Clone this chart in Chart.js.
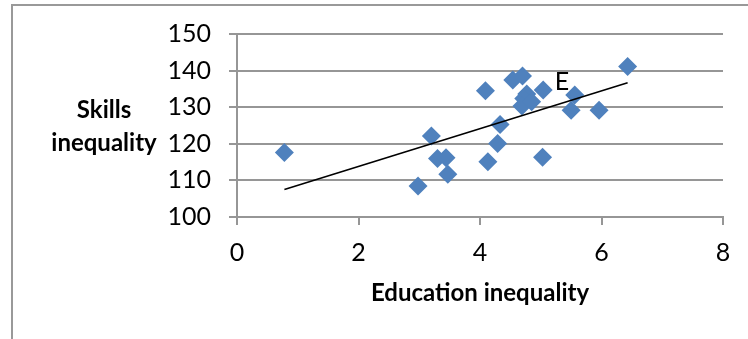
<!DOCTYPE html>
<html>
<head>
<meta charset="utf-8">
<script src="https://cdn.jsdelivr.net/npm/chart.js@4"></script>
<style>
  html, body { margin: 0; padding: 0; background: #fff; }
  #wrap { width: 748px; height: 339px; position: relative; }
</style>
</head>
<body>
<div id="wrap"><canvas id="skillsChart" width="748" height="339"></canvas></div>
<script>
// education inequality (x) vs skills inequality (y)
var eduValues = [0.78, 2.98, 3.20, 3.30, 3.44, 3.47, 4.09, 4.13, 4.29, 4.33, 4.54,
                 4.70, 4.77, 4.72, 4.69, 4.85, 5.04, 5.03, 5.56, 5.50, 5.96, 6.43];
var skillValues = [117.6, 108.5, 122.1, 116.0, 116.2, 111.7, 134.5, 115.1, 120.1, 125.3, 137.4,
                   138.5, 133.6, 132.4, 130.3, 131.5, 134.7, 116.3, 133.3, 129.2, 129.2, 141.1];
// linear trend line end points
var trendX = [0.78, 6.43];
var trendY = [107.5, 136.7];
var xTicks = [0, 2, 4, 6, 8];
var yTicks = [100, 110, 120, 130, 140, 150];
var pointLabel = {x: 5.35, y: 136.9, text: "E"};

var font = "Lato, sans-serif";
var gridColor = '#969696';
var blue = '#4F81BD';

var points = eduValues.map(function(v, i) { return {x: v, y: skillValues[i]}; });
var trend = trendX.map(function(v, i) { return {x: v, y: trendY[i]}; });

var extras = {
  id: 'extras',
  beforeDraw: function(chart) {
    var ctx = chart.ctx;
    ctx.save();
    ctx.strokeStyle = '#999';
    ctx.lineWidth = 2;
    ctx.beginPath();
    ctx.moveTo(12, 339);
    ctx.lineTo(12, 5);
    ctx.lineTo(748, 5);
    ctx.stroke();
    ctx.restore();
  },
  afterDraw: function(chart) {
    var ctx = chart.ctx;
    var xs = chart.scales.x, ys = chart.scales.y;
    ctx.save();
    ctx.fillStyle = '#000';
    ctx.textAlign = 'center';
    ctx.textBaseline = 'middle';
    ctx.font = 'bold 24px ' + font;
    ctx.fillText('Skills', 104, 110);
    ctx.fillText('inequality', 104, 143);
    ctx.fillText('Education inequality', (xs.left + xs.right) / 2, 293);
    ctx.font = '25px ' + font;
    ctx.fillText(pointLabel.text, xs.getPixelForValue(pointLabel.x), ys.getPixelForValue(pointLabel.y));
    ctx.restore();
  }
};

new Chart("skillsChart", {
  type: "scatter",
  data: {
    datasets: [{
      data: points,
      pointStyle: 'rectRot',
      pointRadius: 9.5,
      pointHoverRadius: 9.5,
      backgroundColor: blue,
      borderColor: blue,
      borderWidth: 0,
      order: 1
    }, {
      type: 'line',
      data: trend,
      borderColor: '#000',
      borderWidth: 1.6,
      pointRadius: 0,
      fill: false,
      order: 0
    }]
  },
  plugins: [extras],
  options: {
    responsive: false,
    animation: false,
    layout: {padding: {top: 34, right: 25, left: 0, bottom: 0}},
    plugins: {
      legend: {display: false},
      tooltip: {enabled: false}
    },
    scales: {
      x: {
        type: 'linear',
        min: 0, max: 8,
        afterBuildTicks: function(s) { s.ticks = xTicks.map(function(v) { return {value: v}; }); },
        afterFit: function(s) { s.height = 122; },
        grid: {drawOnChartArea: false, drawTicks: true, tickLength: 8, color: gridColor, lineWidth: 2},
        border: {display: true, color: gridColor, width: 2},
        ticks: {font: {family: font, size: 25}, color: '#000', padding: 13, maxRotation: 0}
      },
      y: {
        min: 100, max: 150,
        afterBuildTicks: function(s) { s.ticks = yTicks.map(function(v) { return {value: v}; }); },
        afterFit: function(s) { s.width = 237; },
        grid: {drawTicks: true, tickLength: 8, color: gridColor, lineWidth: 2},
        border: {display: true, color: gridColor, width: 2},
        ticks: {font: {family: font, size: 25}, color: '#000', padding: 18}
      }
    }
  }
});
</script>
</body>
</html>
